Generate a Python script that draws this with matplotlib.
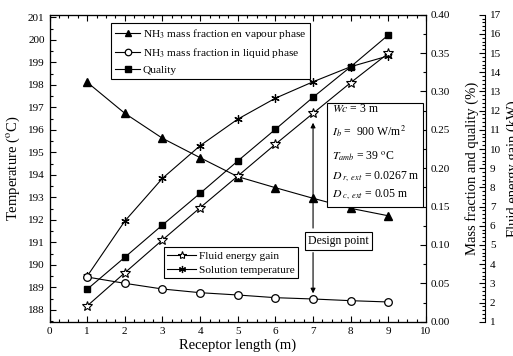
import matplotlib
matplotlib.use("Agg")
import matplotlib.pyplot as plt
from matplotlib.ticker import AutoMinorLocator
from matplotlib.patches import Rectangle

plt.rcParams['font.family'] = ['Liberation Serif', 'DejaVu Serif']
plt.rcParams['mathtext.fontset'] = 'stix'

# ---- data ----
length_m = [1, 2, 3, 4, 5, 6, 7, 8, 9]
nh3_vapour = [0.312, 0.2715, 0.239, 0.2137, 0.189, 0.1746, 0.1608, 0.1477, 0.138]
nh3_liquid = [0.0582, 0.050, 0.0426, 0.0378, 0.0348, 0.0313, 0.0296, 0.0274, 0.0257]
quality = [0.0422, 0.0839, 0.126, 0.1673, 0.2094, 0.2507, 0.2924, 0.3322, 0.3736]
energy_gain_kw = [1.82, 3.55, 5.26, 6.94, 8.59, 10.25, 11.86, 13.46, 14.99]
solution_temp = [189.50, 191.95, 193.85, 195.30, 196.48, 197.41, 198.14, 198.81, 199.29]
design_x = 7

temp_ticks = list(range(188, 202))
frac_ticks = [0.00, 0.05, 0.10, 0.15, 0.20, 0.25, 0.30, 0.35, 0.40]
kw_ticks = list(range(1, 18))
x_ticks = list(range(0, 11))

W, H = 513, 356
fig = plt.figure(figsize=(W / 100, H / 100), dpi=100)
L, R, B, T = 49.5, 426, 321.7, 14.7
ax = fig.add_axes([L / W, 1 - B / H, (R - L) / W, (B - T) / H])
ax2 = ax.twinx()
ax3 = ax.twinx()
ax3.spines['right'].set_position(('axes', (485 - L) / (R - L)))

lw = 0.8
fs_tick = 8
fs_lab = 10.5
fs_leg = 8.2

# temperature axis
ax.set_xlim(0, 10)
ax.set_ylim(187.48, 201.12)
ax.set_xticks(x_ticks)
ax.set_yticks(temp_ticks)
ax.xaxis.set_minor_locator(AutoMinorLocator(4))
ax.yaxis.set_minor_locator(AutoMinorLocator(2))
ax.tick_params(axis='both', which='both', direction='in', labelsize=fs_tick, width=0.8)
ax.tick_params(axis='x', which='both', top=True)
ax.tick_params(which='major', length=4)
ax.tick_params(which='minor', length=2.5)
ax.set_xlabel('Receptor length (m)', fontsize=fs_lab, labelpad=2)
ax.set_ylabel(r'Temperature ($^{\mathrm{o}}$C)', fontsize=fs_lab, labelpad=4)

# mass fraction axis
ax2.set_ylim(0, 0.40)
ax2.set_yticks(frac_ticks)
ax2.set_yticklabels(['%.2f' % v for v in frac_ticks])
ax2.yaxis.set_minor_locator(AutoMinorLocator(2))
ax2.tick_params(axis='y', which='both', direction='in', labelsize=fs_tick, width=0.8)
ax2.tick_params(which='major', length=4)
ax2.tick_params(which='minor', length=2.5)
ax2.set_ylabel('Mass fraction and quality (%)', fontsize=fs_lab, labelpad=10.5)

# energy gain axis
ax3.set_ylim(1, 17)
ax3.set_yticks(kw_ticks)
ax3.yaxis.set_minor_locator(AutoMinorLocator(5))
ax3.tick_params(axis='y', which='both', direction='in', labelsize=fs_tick, width=0.8)
ax3.tick_params(which='major', length=4)
ax3.tick_params(which='minor', length=2.5)
ax3.set_ylabel('Fluid energy gain (kW)', fontsize=fs_lab, labelpad=4)

for a in (ax, ax2, ax3):
    for s in a.spines.values():
        s.set_linewidth(0.8)

h1, = ax2.plot(length_m, nh3_vapour, color='black', lw=lw, marker='^', ms=5.5,
               mfc='black', mec='black', label=r'NH$_3$ mass fraction en vapour phase')
h2, = ax2.plot(length_m, nh3_liquid, color='black', lw=lw, marker='o', ms=5.5,
               mfc='white', mec='black', mew=0.9, label=r'NH$_3$ mass fraction in liquid phase')
h3, = ax2.plot(length_m, quality, color='black', lw=lw, marker='s', ms=4.5,
               mfc='black', mec='black', label='Quality')
h4, = ax3.plot(length_m, energy_gain_kw, color='black', lw=lw, marker='*', ms=7,
               mfc='white', mec='black', mew=0.8, label='Fluid energy gain')
h5, = ax.plot(length_m, solution_temp, color='black', lw=lw, marker=(6, 2, 0), ms=6,
              mec='black', mew=0.9, label='Solution temperature')

leg1 = ax3.legend(handles=[h1, h2, h3], loc='upper left', bbox_to_anchor=(0.1625, 0.974),
                  borderaxespad=0, fontsize=fs_leg, fancybox=False, framealpha=1,
                  edgecolor='black', handlelength=2.2, handletextpad=0.2,
                  labelspacing=0.42, borderpad=0.4, markerscale=0.85)
leg1.get_frame().set_linewidth(0.8)
ax3.add_artist(leg1)
leg2 = ax3.legend(handles=[h4, h5], loc='upper left', bbox_to_anchor=(0.304, 0.242),
                  borderaxespad=0, fontsize=fs_leg, fancybox=False, framealpha=1,
                  edgecolor='black', handlelength=2.5, handletextpad=0.3,
                  labelspacing=0.35, borderpad=0.3, markerscale=0.85)
leg2.get_frame().set_linewidth(0.8)

# parameter box
ax3.add_patch(Rectangle((0.738, 0.3726), 0.991 - 0.738, 0.713 - 0.3726,
                        transform=ax3.transAxes, fill=True, facecolor='white',
                        edgecolor='black', lw=0.8, zorder=5))
params = [
    (0.692, r'$Wc$ = 3 m'),
    (0.622, r'$I_b$ =  900 W/m$^2$'),
    (0.540, r'$T_{amb}$ = 39 $^{\mathrm{o}}$C'),
    (0.472, r'$D_{\ r,\ ext}$ = 0.0267 m'),
    (0.413, r'$D_{\ c,\ ext}$ = 0.05 m'),
]
for yy, s in params:
    ax3.text(0.7495, yy, s, transform=ax3.transAxes, fontsize=8.5, va='center',
             ha='left', zorder=6)

# design point
ax.text(7.68, 191.07, 'Design point', fontsize=8.5, ha='center', va='center',
        bbox=dict(boxstyle='square,pad=0.25', fc='white', ec='black', lw=0.8))
ax.annotate('', xy=(design_x, 196.32), xytext=(design_x, 191.64),
            arrowprops=dict(arrowstyle='-|>', color='black', lw=0.8,
                            mutation_scale=7, shrinkA=0, shrinkB=0))
ax.annotate('', xy=(design_x, 188.74), xytext=(design_x, 190.55),
            arrowprops=dict(arrowstyle='-|>', color='black', lw=0.8,
                            mutation_scale=7, shrinkA=0, shrinkB=0))

fig.savefig('out.png', dpi=100)
